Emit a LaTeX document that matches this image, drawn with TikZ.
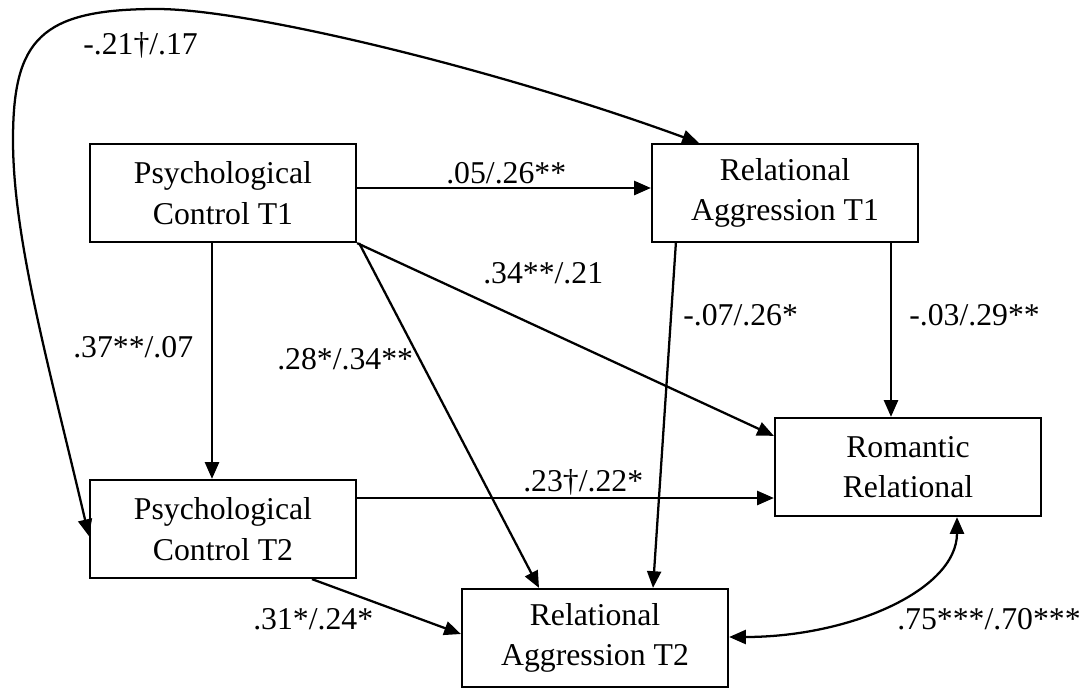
\documentclass[tikz,border=0pt]{standalone}
\usepackage{fontspec}
\setmainfont{Liberation Serif}
\usetikzlibrary{arrows.meta,calc}
\begin{document}
\begin{tikzpicture}[x=0.75pt,y=-0.75pt,
  every node/.style={font=\fontsize{23.8pt}{30.5pt}\selectfont},
  box/.style={draw,line width=1.7pt,rectangle,align=center,minimum width=199.5pt,minimum height=73.5pt,inner sep=0pt},
  lab/.style={anchor=base west,inner sep=0pt},
  arr/.style={line width=1.7pt,-{Triangle[length=12.5pt,width=10.5pt]}},
  dbl/.style={line width=1.7pt,{Triangle[length=12.5pt,width=10.5pt]}-{Triangle[length=12.5pt,width=10.5pt]}}]
\useasboundingbox (0,0) rectangle (1080,688);
\fill[white] (0,0) rectangle (1080,688);

\node[box] (pc1) at (223,193) {Psychological\\Control T1};
\node[box] (ra1) at (785,193) {Relational\\Aggression T1};
\node[box] (rom) at (908,467) {Romantic\\Relational};
\node[box] (pc2) at (223,529) {Psychological\\Control T2};
\node[box] (ra2) at (595,638) {Relational\\Aggression T2};

% connectors
\draw[dbl] ($(ra1.north west)+(48,0)$) .. controls (500,70) and (250,9) .. (157,9)
  .. controls (40,9) and (13,40) .. (13,140)
  .. controls (13,240) and (50,370) .. ($(pc2.west)+(0,7)$);
\draw[arr] ($(pc1.east)+(0,-5)$) -- ($(ra1.west)+(0,-5)$);
\draw[arr] ($(pc1.south)+(-11,0)$) -- ($(pc2.north)+(-11,0)$);
\draw[arr] (pc1.south east) -- ($(rom.north west)+(0,19)$);
\draw[arr] ($(pc1.south east)+(2,0)$) -- ($(ra2.north)+(-56,0)$);
\draw[arr] ($(ra1.south west)+(25,0)$) -- ($(ra2.north)+(58,0)$);
\draw[arr] ($(ra1.south)+(106,0)$) -- ($(rom.north)+(-17,0)$);
\draw[arr] ($(pc2.east)+(0,-31)$) -- ($(rom.west)+(0,31)$);
\draw[arr] ($(pc2.south)+(89,0)$) -- ($(ra2.west)+(0,-4)$);
\draw[dbl] ($(ra2.east)+(0,-1)$) .. controls (850,637) and (957,590) .. ($(rom.south)+(49,0)$);

% labels
\node[lab] (l1) at (83,55) {-.21†/.17};
\node[lab] (l2) at (446,183) {.05/.26**};
\node[lab] (l3) at (73,357) {.37**/.07};
\node[lab] (l4) at (483,283) {.34**/.21};
\node[lab] (l5) at (277,369) {.28*/.34**};
\node[lab] (l6) at (683,325) {-.07/.26*};
\node[lab] (l7) at (909,325) {-.03/.29**};
\node[lab] (l8) at (523,491) {.23†/.22*};
\node[lab] (l9) at (253,629) {.31*/.24*};
\node[lab] (l10) at (897,629) {.75***/.70***};
\end{tikzpicture}
\end{document}
